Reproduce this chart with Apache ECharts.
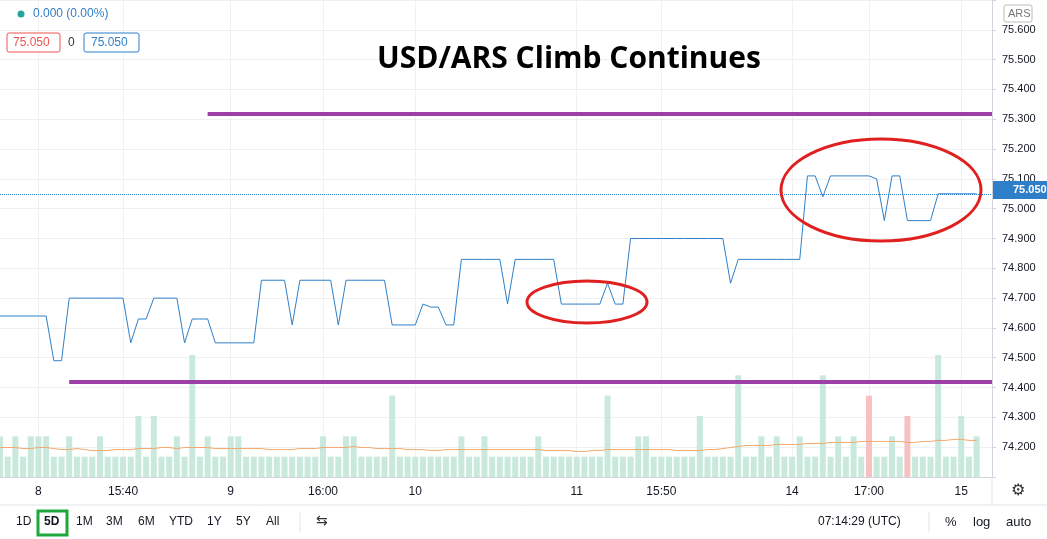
<!DOCTYPE html>
<html>
<head>
<meta charset="utf-8">
<script src="https://cdn.jsdelivr.net/npm/echarts@6/dist/echarts.min.js"></script>
<style>html,body{margin:0;padding:0;background:#fff}#c{width:1047px;height:539px}</style>
</head>
<body>
<div id="c"></div>
<script>
// price per bar (5 days, USD/ARS)
var prices = [74.64,74.64,74.64,74.64,74.64,74.64,74.64,74.49,74.49,74.70,
74.70,74.70,74.70,74.70,74.70,74.70,74.70,74.55,74.63,74.63,
74.70,74.70,74.70,74.70,74.55,74.63,74.63,74.63,74.55,74.55,
74.55,74.55,74.55,74.55,74.76,74.76,74.76,74.76,74.61,74.76,
74.76,74.76,74.76,74.76,74.61,74.76,74.76,74.76,74.76,74.76,
74.76,74.61,74.61,74.61,74.61,74.68,74.67,74.67,74.61,74.61,
74.83,74.83,74.83,74.83,74.83,74.83,74.68,74.83,74.83,74.83,
74.83,74.83,74.83,74.68,74.68,74.68,74.68,74.68,74.68,74.75,
74.68,74.68,74.90,74.90,74.90,74.90,74.90,74.90,74.90,74.90,
74.90,74.90,74.90,74.90,74.90,74.75,74.83,74.83,74.83,74.83,
74.83,74.83,74.83,74.83,74.83,75.11,75.11,75.04,75.11,75.11,
75.11,75.11,75.11,75.11,75.10,74.96,75.11,75.11,74.96,74.96,
74.96,74.96,75.05,75.05,75.05,75.05,75.05,75.05,null,null];
var volumes = [4,2,4,2,4,4,4,2,2,4,2,2,2,4,2,2,2,2,6,2,
6,2,2,4,2,12,2,4,2,2,4,4,2,2,2,2,2,2,2,2,
2,2,4,2,2,4,4,2,2,2,2,8,2,2,2,2,2,2,2,2,
4,2,2,4,2,2,2,2,2,2,4,2,2,2,2,2,2,2,2,8,
2,2,2,4,4,2,2,2,2,2,2,6,2,2,2,2,10,2,2,4,
2,4,2,2,4,2,2,10,2,4,2,4,2,8,2,2,4,2,6,2,
2,2,12,2,2,6,2,4,null,null];
var downBars = [113,118];
var volMA = [2.9,2.9,2.9,2.8,2.8,2.9,2.9,2.8,2.7,2.7,2.8,2.7,2.6,2.6,2.6,2.7,2.7,2.7,2.8,2.8,
2.8,2.9,2.9,2.8,2.9,2.9,2.9,2.9,2.8,2.8,2.8,2.8,2.8,2.8,2.8,2.7,2.7,2.7,2.7,2.8,
2.8,2.8,2.9,2.9,2.9,2.9,3.0,2.9,2.9,2.8,2.8,2.8,2.8,2.7,2.7,2.7,2.6,2.6,2.7,2.7,
2.7,2.7,2.7,2.7,2.7,2.7,2.7,2.7,2.7,2.7,2.7,2.6,2.6,2.6,2.6,2.5,2.5,2.6,2.6,2.7,
2.7,2.7,2.7,2.7,2.7,2.7,2.7,2.7,2.6,2.6,2.6,2.6,2.7,2.7,2.8,2.9,3.0,3.1,3.1,3.1,
3.1,3.2,3.2,3.2,3.2,3.3,3.3,3.3,3.4,3.4,3.4,3.4,3.5,3.5,3.5,3.5,3.5,3.5,3.4,3.4,
3.5,3.5,3.6,3.6,3.7,3.7,3.6,3.6,null,null];
var tickIdx = [5,16,30,42,54,75,86,103,113,125];
var tickText = ['8','15:40','9','16:00','10','11','15:50','14','17:00','15'];
var supportLevel = 74.42, resistLevel = 75.32, lastPrice = 75.05;

var cats = prices.map(function(v, i){ return i; });
var isTick = function(i){ return tickIdx.indexOf(i) >= 0; };
var volData = volumes.map(function(v, i){
  return {value: v, itemStyle: {color: downBars.indexOf(i) >= 0 ? '#f7c1c1' : '#c9e9dc'}};
});

var chart = echarts.init(document.getElementById('c'));
var font = 'Liberation Sans, Arial, sans-serif';
var tb = ['1D','5D','1M','3M','6M','YTD','1Y','5Y','All'];
var tbX = [16,44,76,106,138,169,207,236,266];
var graphics = [
  {type:'text', left:377, top:44, style:{text:'USD/ARS Climb Continues', font:'bold 30px "Open Sans", sans-serif', fill:'#000'}},
  {type:'ellipse', shape:{cx:587, cy:302, rx:60, ry:21}, style:{fill:'none', stroke:'#e0201f', lineWidth:3}},
  {type:'ellipse', shape:{cx:881, cy:190, rx:100, ry:51}, style:{fill:'none', stroke:'#e0201f', lineWidth:3}},
  {type:'circle', shape:{cx:21, cy:14, r:3.5}, style:{fill:'#26a69a'}},
  {type:'text', left:33, top:8, style:{text:'0.000 (0.00%)', font:'12px '+font, fill:'#2f7fc8'}},
  {type:'rect', shape:{x:7, y:33, width:53, height:19, r:2}, style:{fill:'#fff', stroke:'#ef5350'}},
  {type:'text', left:13, top:37, style:{text:'75.050', font:'12px '+font, fill:'#ef5350'}},
  {type:'text', left:68, top:37, style:{text:'0', font:'12px '+font, fill:'#333'}},
  {type:'rect', shape:{x:84, y:33, width:55, height:19, r:2}, style:{fill:'#fff', stroke:'#2f7fc8'}},
  {type:'text', left:91, top:37, style:{text:'75.050', font:'12px '+font, fill:'#2f7fc8'}},
  {type:'rect', shape:{x:1004, y:5, width:28, height:17, r:2}, style:{fill:'#fff', stroke:'#bbb'}},
  {type:'text', left:1008, top:8, style:{text:'ARS', font:'11px '+font, fill:'#777'}},
  {type:'rect', shape:{x:993, y:181, width:54, height:18}, style:{fill:'#2f7fc8'}},
  {type:'text', left:1013, top:184, style:{text:'75.050', font:'bold 11px '+font, fill:'#fff'}},
  {type:'line', shape:{x1:0, y1:505, x2:1047, y2:505}, style:{stroke:'#e0e3eb'}},
  {type:'line', shape:{x1:992, y1:477, x2:992, y2:505}, style:{stroke:'#e0e3eb'}},
  {type:'text', left:1011, top:483, style:{text:'⚙', font:'16px "DejaVu Sans"', fill:'#333'}},
  {type:'rect', shape:{x:38, y:511, width:29, height:24}, style:{fill:'none', stroke:'#1ea83c', lineWidth:3}},
  {type:'text', left:316, top:514, style:{text:'⇆', font:'14px "DejaVu Sans"', fill:'#333'}},
  {type:'line', shape:{x1:300, y1:512, x2:300, y2:532}, style:{stroke:'#e0e3eb'}},
  {type:'text', left:818, top:516, style:{text:'07:14:29 (UTC)', font:'12px '+font, fill:'#131722'}},
  {type:'line', shape:{x1:929, y1:512, x2:929, y2:532}, style:{stroke:'#e0e3eb'}},
  {type:'text', left:945, top:516, style:{text:'%', font:'13px '+font, fill:'#131722'}},
  {type:'text', left:973, top:516, style:{text:'log', font:'13px '+font, fill:'#131722'}},
  {type:'text', left:1006, top:516, style:{text:'auto', font:'13px '+font, fill:'#131722'}}
];
tb.forEach(function(t, k){
  graphics.push({type:'text', left:tbX[k], top:516, style:{text:t, font:(t === '5D' ? 'bold ' : '') + '12px '+font, fill:'#131722'}});
});
graphics.forEach(function(g){ g.z = 100; });

chart.setOption({
  animation: false,
  graphic: graphics,
  grid: [
    {left:0, right:55, top:0, bottom:62},
    {left:0, right:55, top:355, bottom:62}
  ],
  xAxis: [
    {type:'category', data:cats, boundaryGap:false, gridIndex:0,
     axisLine:{lineStyle:{color:'#d1d4dc'}}, axisTick:{show:false},
     axisLabel:{interval:function(i){ return isTick(i); }, formatter:function(v){ return tickText[tickIdx.indexOf(+v)]; }, color:'#131722', fontSize:12, fontFamily:font, margin:9},
     splitLine:{show:true, interval:function(i){ return isTick(i); }, lineStyle:{color:'#eef0f3'}}},
    {type:'category', data:cats, boundaryGap:false, gridIndex:1, show:false}
  ],
  yAxis: [
    {type:'value', position:'right', min:74.1, max:75.7, interval:0.1, gridIndex:0,
     axisLine:{show:true, lineStyle:{color:'#d1d4dc'}}, axisTick:{show:true, length:4, lineStyle:{color:'#d1d4dc'}},
     axisLabel:{color:'#131722', fontSize:11, fontFamily:font, margin:10,
       formatter:function(v){ return (v < 74.15 || v > 75.65) ? '' : v.toFixed(3); }},
     splitLine:{lineStyle:{color:'#eef0f3'}}},
    {type:'value', min:0, max:12, gridIndex:1, show:false}
  ],
  series: [
    {type:'bar', xAxisIndex:1, yAxisIndex:1, data:volData, barWidth:6, z:1},
    {type:'line', xAxisIndex:1, yAxisIndex:1, data:volMA, showSymbol:false, lineStyle:{color:'#f3a86b', width:1}, z:2},
    {type:'line', data:prices, showSymbol:false, lineStyle:{color:'#2f7fc8', width:1}, z:3,
     markLine:{symbol:'none', silent:true, label:{show:false}, data:[
       [{coord:[27, resistLevel], lineStyle:{color:'#9c3fa6', width:4, type:'solid'}}, {coord:[129, resistLevel]}],
       [{coord:[9, supportLevel], lineStyle:{color:'#9c3fa6', width:4, type:'solid'}}, {coord:[129, supportLevel]}],
       [{coord:[0, lastPrice], lineStyle:{color:'#2f7fc8', width:1, type:'dotted'}}, {coord:[129, lastPrice]}]
     ]}}
  ]
});
</script>
</body>
</html>
